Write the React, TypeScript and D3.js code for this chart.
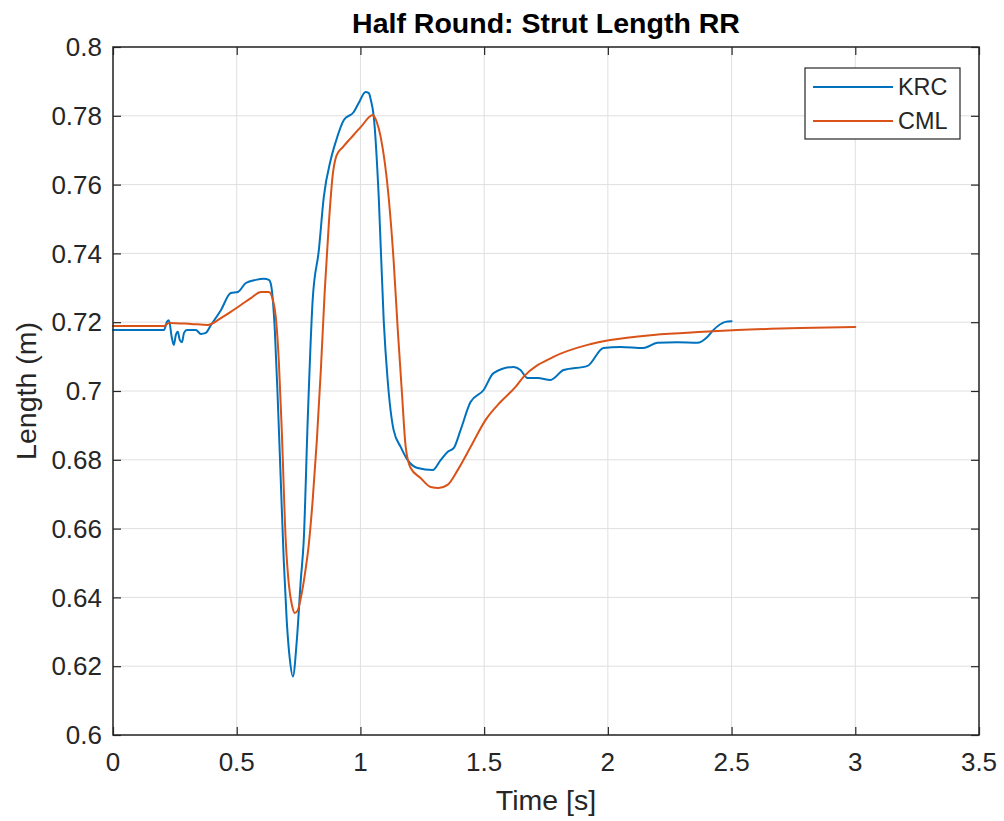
import { useRef, useEffect } from 'react';
import * as d3 from 'd3';

const WIDTH = 1004;
const HEIGHT = 821;

const title = 'Half Round: Strut Length RR';
const xLabel = 'Time [s]';
const yLabel = 'Length (m)';
const seriesNames = ['KRC', 'CML'];

const xTicks = [0, 0.5, 1, 1.5, 2, 2.5, 3, 3.5];
const yTicks = [0.6, 0.62, 0.64, 0.66, 0.68, 0.7, 0.72, 0.74, 0.76, 0.78, 0.8];

// KRC measured strut length
const krcTime = [
  0, 0.206, 0.218, 0.226, 0.238, 0.246, 0.254, 0.262, 0.27, 0.279, 0.287, 0.299, 0.335, 0.355,
  0.375, 0.396, 0.436, 0.476, 0.505, 0.537, 0.577, 0.61, 0.63, 0.638, 0.654, 0.666, 0.678, 0.69,
  0.702, 0.715, 0.727, 0.743, 0.759, 0.771, 0.787, 0.807, 0.832, 0.852, 0.88, 0.9, 0.933, 0.973,
  0.993, 1.021, 1.034, 1.042, 1.054, 1.074, 1.094, 1.11, 1.134, 1.163, 1.191, 1.231, 1.292, 1.324,
  1.352, 1.377, 1.405, 1.445, 1.498, 1.538, 1.619, 1.647, 1.675, 1.716, 1.768, 1.821, 1.918, 1.982,
  2.051, 2.144, 2.2, 2.281, 2.362, 2.402, 2.426, 2.475, 2.5,
];
const krcLength = [
  0.7177, 0.7177, 0.7201, 0.7206, 0.7154, 0.7134, 0.7163, 0.7172, 0.7148, 0.7142, 0.7169, 0.7177,
  0.7177, 0.7166, 0.7169, 0.7192, 0.7235, 0.7285, 0.7288, 0.7314, 0.7323, 0.7326, 0.7323, 0.7311,
  0.7177, 0.6974, 0.6741, 0.6509, 0.6334, 0.6218, 0.617, 0.6276, 0.6451, 0.6567, 0.6916, 0.7265,
  0.741, 0.7564, 0.7672, 0.7724, 0.7788, 0.7811, 0.7837, 0.7869, 0.7866, 0.7846, 0.7797, 0.7564,
  0.7206, 0.7032, 0.6887, 0.6837, 0.6799, 0.6776, 0.677, 0.6799, 0.6823, 0.6834, 0.6887, 0.6968,
  0.7003, 0.7052, 0.707, 0.7061, 0.7038, 0.7038, 0.7032, 0.7061, 0.7073, 0.7125, 0.7128, 0.7125,
  0.714, 0.7142, 0.714, 0.7157, 0.7177, 0.7201, 0.7203,
];

// CML simulated strut length
const cmlTime = [
  0, 0.206, 0.226, 0.315, 0.384, 0.436, 0.476, 0.517, 0.557, 0.598, 0.63, 0.646, 0.658, 0.67,
  0.682, 0.698, 0.711, 0.723, 0.735, 0.747, 0.759, 0.775, 0.791, 0.807, 0.824, 0.84, 0.856, 0.872,
  0.888, 0.904, 0.929, 0.961, 1.001, 1.05, 1.066, 1.082, 1.114, 1.134, 1.151, 1.167, 1.183, 1.203,
  1.243, 1.284, 1.316, 1.352, 1.393, 1.445, 1.506, 1.566, 1.627, 1.659, 1.78, 1.918, 2.01, 2.184,
  2.386, 2.523, 2.778, 3.0,
];
const cmlLength = [
  0.7189, 0.7189, 0.7198, 0.7195, 0.7192, 0.7212, 0.723, 0.725, 0.727, 0.7288, 0.7288, 0.7265,
  0.7215, 0.709, 0.6887, 0.6567, 0.6436, 0.6378, 0.6355, 0.6363, 0.6398, 0.6465, 0.6552, 0.6683,
  0.6858, 0.7061, 0.7294, 0.7483, 0.7628, 0.7686, 0.7709, 0.7735, 0.7767, 0.7802, 0.7782, 0.7738,
  0.7564, 0.7381, 0.7177, 0.7003, 0.6837, 0.6776, 0.6747, 0.6721, 0.6718, 0.6727, 0.677, 0.6837,
  0.6916, 0.6968, 0.7012, 0.7041, 0.7099, 0.7134, 0.7148, 0.7163, 0.7172, 0.7177, 0.7183, 0.7186,
];

const colors = ['#0072BD', '#D95319'];
const axisColor = '#262626';
const font = '"Liberation Sans", Arial, Helvetica, sans-serif';

const App = () => {
  const svgRef = useRef<SVGSVGElement>(null);

  useEffect(() => {
    const svg = d3.select(svgRef.current);
    svg.selectAll('*').remove();

    const margin = { top: 47, right: 25, bottom: 86, left: 113 };
    const width = WIDTH - margin.left - margin.right;
    const height = HEIGHT - margin.top - margin.bottom;

    const x = d3.scaleLinear().domain([0, 3.5]).range([0, width]);
    const y = d3.scaleLinear().domain([0.6, 0.8]).range([height, 0]);

    svg.append('rect').attr('width', WIDTH).attr('height', HEIGHT).attr('fill', '#fff');

    const g = svg.append('g').attr('transform', `translate(${margin.left},${margin.top})`);

    // grid
    g.append('g')
      .selectAll('line')
      .data(xTicks)
      .join('line')
      .attr('x1', d => x(d)).attr('x2', d => x(d))
      .attr('y1', 0).attr('y2', height)
      .attr('stroke', '#dfdfdf').attr('stroke-width', 1);
    g.append('g')
      .selectAll('line')
      .data(yTicks)
      .join('line')
      .attr('x1', 0).attr('x2', width)
      .attr('y1', d => y(d)).attr('y2', d => y(d))
      .attr('stroke', '#dfdfdf').attr('stroke-width', 1);

    // series
    const series = [
      { t: krcTime, v: krcLength },
      { t: cmlTime, v: cmlLength },
    ];
    series.forEach((s, i) => {
      const pts: [number, number][] = s.t.map((t, j) => [t, s.v[j]]);
      const line = d3.line<[number, number]>()
        .curve(d3.curveMonotoneX)
        .x(d => x(d[0]))
        .y(d => y(d[1]));
      g.append('path')
        .datum(pts)
        .attr('fill', 'none')
        .attr('stroke', colors[i])
        .attr('stroke-width', 2)
        .attr('stroke-linejoin', 'round')
        .attr('stroke-linecap', 'round')
        .attr('d', line);
    });

    // axes box and ticks (inside, on all four sides)
    const tickLen = 8;
    const axisStyle = (sel: any) => {
      sel.select('.domain').remove();
      sel.selectAll('.tick line').attr('stroke', axisColor).attr('stroke-width', 1.2);
      sel.selectAll('text').remove();
    };
    g.append('g').attr('transform', `translate(0,${height})`)
      .call(d3.axisBottom(x).tickValues(xTicks).tickSize(-tickLen)).call(axisStyle);
    g.append('g')
      .call(d3.axisTop(x).tickValues(xTicks).tickSize(-tickLen)).call(axisStyle);
    g.append('g')
      .call(d3.axisLeft(y).tickValues(yTicks).tickSize(-tickLen)).call(axisStyle);
    g.append('g').attr('transform', `translate(${width},0)`)
      .call(d3.axisRight(y).tickValues(yTicks).tickSize(-tickLen)).call(axisStyle);

    g.append('rect')
      .attr('width', width).attr('height', height)
      .attr('fill', 'none').attr('stroke', axisColor).attr('stroke-width', 1.5);

    // tick labels
    g.append('g')
      .selectAll('text')
      .data(xTicks)
      .join('text')
      .attr('x', d => x(d))
      .attr('y', height + 36)
      .attr('text-anchor', 'middle')
      .attr('font-family', font).attr('font-size', 26).attr('fill', axisColor)
      .text(d => d3.format('~g')(d));
    g.append('g')
      .selectAll('text')
      .data(yTicks)
      .join('text')
      .attr('x', -11)
      .attr('y', d => y(d))
      .attr('dy', '0.35em')
      .attr('text-anchor', 'end')
      .attr('font-family', font).attr('font-size', 26).attr('fill', axisColor)
      .text(d => d3.format('~g')(d));

    // labels and title
    svg.append('text')
      .attr('x', margin.left + width / 2).attr('y', 810)
      .attr('text-anchor', 'middle')
      .attr('font-family', font).attr('font-size', 28.5).attr('fill', axisColor)
      .text(xLabel);
    svg.append('text')
      .attr('transform', `translate(36,${margin.top + height / 2}) rotate(-90)`)
      .attr('text-anchor', 'middle')
      .attr('font-family', font).attr('font-size', 28.5).attr('fill', axisColor)
      .text(yLabel);
    svg.append('text')
      .attr('x', margin.left + width / 2).attr('y', 33)
      .attr('text-anchor', 'middle')
      .attr('font-family', font).attr('font-size', 28.5).attr('font-weight', 'bold').attr('fill', '#000')
      .text(title);

    // legend
    const lg = svg.append('g').attr('transform', 'translate(805,68)');
    lg.append('rect')
      .attr('width', 155).attr('height', 71)
      .attr('fill', '#fff').attr('stroke', axisColor).attr('stroke-width', 1.2);
    seriesNames.forEach((name, i) => {
      const yy = 19 + i * 34;
      lg.append('line')
        .attr('x1', 8).attr('x2', 88).attr('y1', yy).attr('y2', yy)
        .attr('stroke', colors[i]).attr('stroke-width', 2);
      lg.append('text')
        .attr('x', 93).attr('y', yy).attr('dy', '0.35em')
        .attr('font-family', font).attr('font-size', 23.4).attr('fill', axisColor)
        .text(name);
    });
  }, []);

  return (
    <svg
      ref={svgRef}
      width={WIDTH}
      height={HEIGHT}
      style={{ position: 'absolute', left: 0, top: 0 }}
    ></svg>
  );
};

export default App;
